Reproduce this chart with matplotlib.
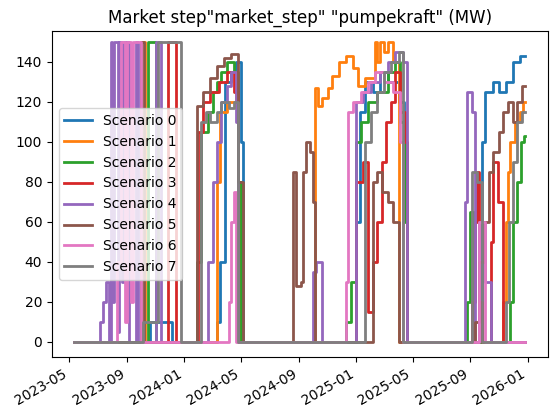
import matplotlib
matplotlib.use("Agg")
import matplotlib.pyplot as plt
import matplotlib.dates as mdates
import pandas as pd

START = "2023-05-12"
END = "2025-12-27"

# (date, value) breakpoints, step-post, per scenario
s0 = [("2023-10-20", 10), ("2023-12-05", 0), ("2024-03-10", 10), ("2024-03-17", 40),
      ("2024-03-27", 130), ("2024-04-10", 135), ("2024-04-20", 140), ("2024-05-01", 100),
      ("2024-05-05", 0), ("2025-01-01", 60), ("2025-01-08", 115), ("2025-01-20", 130),
      ("2025-02-05", 125), ("2025-02-20", 135), ("2025-03-10", 130), ("2025-04-01", 120),
      ("2025-04-12", 70), ("2025-04-20", 0), ("2025-09-25", 100), ("2025-10-01", 125),
      ("2025-10-20", 130), ("2025-11-01", 125), ("2025-11-15", 130), ("2025-12-01", 140),
      ("2025-12-15", 143)]
s1 = [("2023-10-01", 150), ("2023-10-10", 0), ("2024-03-10", 80), ("2024-03-17", 115),
      ("2024-04-01", 120), ("2024-04-20", 125), ("2024-04-25", 80), ("2024-05-01", 0),
      ("2024-10-05", 127), ("2024-10-12", 118), ("2024-10-20", 122), ("2024-11-01", 127),
      ("2024-11-10", 133), ("2024-11-25", 140), ("2024-12-10", 143), ("2024-12-25", 137),
      ("2025-01-05", 128), ("2025-01-20", 132), ("2025-02-10", 150), ("2025-02-15", 140),
      ("2025-02-20", 150), ("2025-03-01", 145), ("2025-03-10", 150), ("2025-03-20", 140),
      ("2025-04-01", 0), ("2025-11-10", 20), ("2025-11-15", 60), ("2025-11-20", 85),
      ("2025-11-25", 100), ("2025-12-05", 110), ("2025-12-15", 115), ("2025-12-22", 120)]
s2 = [("2023-10-15", 150), ("2023-11-01", 0), ("2024-01-28", 40), ("2024-02-05", 105),
      ("2024-02-20", 115), ("2024-03-01", 125), ("2024-03-10", 130), ("2024-03-20", 135),
      ("2024-04-01", 140), ("2024-04-15", 135), ("2024-04-25", 80), ("2024-05-01", 0),
      ("2024-12-10", 10), ("2024-12-20", 30), ("2025-01-01", 100), ("2025-01-10", 110),
      ("2025-01-25", 120), ("2025-02-15", 125), ("2025-03-10", 135), ("2025-03-25", 140),
      ("2025-04-05", 110), ("2025-04-15", 60), ("2025-04-20", 0), ("2025-08-25", 20),
      ("2025-09-01", 65), ("2025-09-08", 0), ("2025-11-25", 20), ("2025-12-01", 60),
      ("2025-12-10", 80), ("2025-12-18", 100), ("2025-12-25", 103)]
s3 = [("2023-11-28", 150), ("2023-12-15", 0), ("2024-01-30", 105), ("2024-02-10", 120),
      ("2024-02-25", 125), ("2024-03-15", 130), ("2024-04-01", 135), ("2024-04-15", 125),
      ("2024-04-25", 0), ("2025-01-01", 80), ("2025-01-15", 90), ("2025-01-25", 15),
      ("2025-02-05", 40), ("2025-02-15", 60), ("2025-02-25", 90), ("2025-03-05", 110),
      ("2025-03-15", 120), ("2025-03-25", 135), ("2025-04-05", 115), ("2025-04-15", 100),
      ("2025-04-20", 0), ("2025-09-05", 20), ("2025-09-10", 60), ("2025-09-15", 85),
      ("2025-09-20", 20), ("2025-09-25", 0), ("2025-10-15", 50), ("2025-10-20", 90),
      ("2025-10-30", 70), ("2025-11-10", 0)]
s4 = [("2023-07-05", 10), ("2023-07-12", 20), ("2023-07-18", 30), ("2023-07-25", 0),
      ("2023-07-28", 150), ("2023-08-01", 20), ("2023-08-05", 150), ("2023-08-12", 5),
      ("2023-08-15", 150), ("2023-08-22", 30), ("2023-08-25", 150), ("2023-09-05", 0),
      ("2023-09-20", 150), ("2023-09-25", 0), ("2023-11-01", 150), ("2023-11-12", 0),
      ("2024-02-20", 40), ("2024-03-01", 80), ("2024-03-10", 100), ("2024-03-20", 120),
      ("2024-04-01", 128), ("2024-04-10", 135), ("2024-04-20", 110), ("2024-04-25", 0),
      ("2024-10-01", 35), ("2024-10-08", 40), ("2024-10-20", 0), ("2025-01-01", 120),
      ("2025-01-15", 125), ("2025-02-01", 130), ("2025-02-20", 135), ("2025-03-10", 140),
      ("2025-03-25", 145), ("2025-04-10", 140), ("2025-04-20", 0), ("2025-08-20", 70),
      ("2025-08-25", 125), ("2025-09-05", 115), ("2025-09-10", 0), ("2025-09-20", 60),
      ("2025-10-01", 30), ("2025-10-15", 0)]
s5 = [("2023-10-01", 150), ("2023-10-08", 0), ("2024-01-28", 118), ("2024-02-10", 125),
      ("2024-02-25", 132), ("2024-03-10", 138), ("2024-03-25", 142), ("2024-04-10", 144),
      ("2024-04-25", 80), ("2024-05-05", 0), ("2024-08-20", 85), ("2024-08-25", 28),
      ("2024-09-05", 30), ("2024-09-10", 85), ("2024-09-15", 100), ("2024-09-25", 95),
      ("2024-10-01", 70), ("2024-10-05", 0), ("2025-02-05", 80), ("2025-02-15", 85),
      ("2025-02-25", 75), ("2025-03-10", 70), ("2025-03-20", 60), ("2025-04-01", 0),
      ("2025-09-10", 10), ("2025-09-20", 40), ("2025-09-30", 60), ("2025-10-10", 85),
      ("2025-10-20", 95), ("2025-11-01", 105), ("2025-11-10", 115), ("2025-11-20", 120),
      ("2025-12-01", 110), ("2025-12-10", 120), ("2025-12-20", 128)]
s6 = [("2023-08-10", 40), ("2023-08-20", 150), ("2023-08-28", 10), ("2023-09-01", 150),
      ("2023-09-10", 20), ("2023-09-13", 150), ("2023-09-30", 0), ("2024-04-05", 20),
      ("2024-04-10", 60), ("2024-04-15", 75), ("2024-04-20", 0), ("2024-12-10", 30),
      ("2024-12-15", 115), ("2024-12-25", 120), ("2025-01-10", 125), ("2025-01-25", 130),
      ("2025-02-10", 135), ("2025-03-01", 130), ("2025-03-20", 125), ("2025-04-05", 100),
      ("2025-04-10", 0), ("2025-09-20", 60), ("2025-10-01", 0)]
s7 = [("2023-10-05", 10), ("2023-11-05", 150), ("2023-12-25", 0), ("2024-02-05", 110),
      ("2024-02-15", 115), ("2024-02-25", 110), ("2024-03-10", 115), ("2024-03-20", 120),
      ("2024-04-05", 117), ("2024-04-15", 120), ("2024-04-25", 0), ("2025-01-20", 100),
      ("2025-02-01", 115), ("2025-02-15", 125), ("2025-03-01", 135), ("2025-03-15", 140),
      ("2025-04-01", 145), ("2025-04-10", 0), ("2025-09-05", 85), ("2025-09-15", 80),
      ("2025-09-25", 0), ("2025-11-15", 20), ("2025-11-22", 60), ("2025-12-01", 90),
      ("2025-12-10", 110), ("2025-12-20", 115)]

scenarios = [s0, s1, s2, s3, s4, s5, s6, s7]

fig, ax = plt.subplots(figsize=(5.58, 4.18), dpi=100)
for i, pts in enumerate(scenarios):
    pts = [(START, 0)] + pts
    pts = pts + [(END, pts[-1][1])]
    x = pd.to_datetime([p[0] for p in pts])
    y = [p[1] for p in pts]
    ax.step(x, y, where="post", lw=2, label=f"Scenario {i}")

ax.set_title('Market step"market_step" "pumpekraft" (MW)')
ax.xaxis.set_major_locator(mdates.MonthLocator(bymonth=[1, 5, 9]))
ax.xaxis.set_major_formatter(mdates.DateFormatter("%Y-%m"))
ax.set_ylim(-7.5, 155.5)
ax.legend(loc="center left")
fig.autofmt_xdate()
fig.subplots_adjust(left=0.093, right=0.982, top=0.926, bottom=0.146)
fig.savefig("out.png")
